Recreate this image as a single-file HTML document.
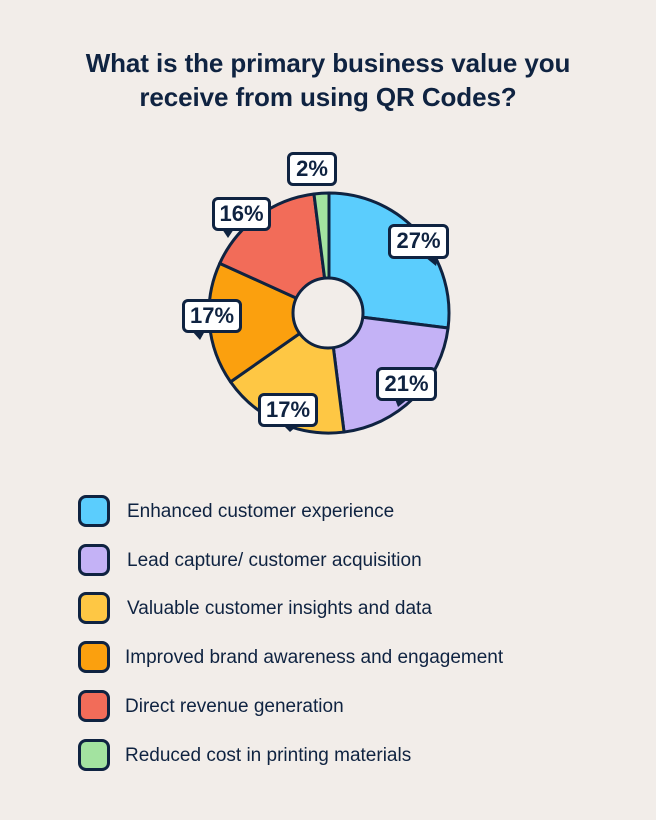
<!DOCTYPE html>
<html><head><meta charset="utf-8"><style>
body{margin:0;width:656px;height:820px;background:#f2ede9;font-family:"Liberation Sans",sans-serif;color:#0f2341;position:relative;overflow:hidden}
.t{position:absolute;left:0;width:656px;text-align:center;font-weight:bold;font-size:26px;line-height:34px;top:46px;letter-spacing:-0.1px}
.lg{position:absolute;left:78px;width:32px;height:32px;border:3px solid #0f2341;border-radius:8px;box-sizing:border-box}
.lt{position:absolute;left:127px;font-size:19px;line-height:20px}
.b{position:absolute;background:#fff;border:3px solid #0f2341;border-radius:6px;box-sizing:border-box;font-weight:bold;font-size:22px;text-align:center;line-height:28px}
</style></head><body>
<div class="t">What is the primary business value you<br>receive from using QR Codes?</div>
<svg width="656" height="820" style="position:absolute;left:0;top:0">
<g stroke="#0f2341" stroke-width="3" stroke-linejoin="round">
<path d="M329,313 L329,193 A120,120 0 0 1 448.06,328.04 Z" fill="#5bcdfd"/>
<path d="M329,313 L448.06,328.04 A120,120 0 0 1 344.04,432.06 Z" fill="#c4b2f6"/>
<path d="M329,313 L344.04,432.06 A120,120 0 0 1 230.55,381.88 Z" fill="#fec744"/>
<path d="M329,313 L230.55,381.88 A120,120 0 0 1 219.76,263.34 Z" fill="#fba00e"/>
<path d="M329,313 L219.76,263.34 A120,120 0 0 1 313.95,193.95 Z" fill="#f26c59"/>
<path d="M329,313 L313.95,193.95 A120,120 0 0 1 329,193 Z" fill="#a3e3a0"/>
<circle cx="328" cy="313" r="35" fill="#f2ede9"/>
</g>
<g fill="#0f2341">
<path d="M222,229 L234,229 L228,238 Z"/>
<path d="M425,257 L438,257 L436,266 Z"/>
<path d="M192,331 L205,331 L200,340 Z"/>
<path d="M395,399 L408,399 L398,407 Z"/>
<path d="M283,425 L298,425 L290,432 Z"/>
</g>
</svg>
<div class="b" style="left:287px;top:152px;width:50px;height:34px">2%</div>
<div class="b" style="left:212px;top:197px;width:59px;height:34px">16%</div>
<div class="b" style="left:388px;top:224px;width:61px;height:35px">27%</div>
<div class="b" style="left:182px;top:299px;width:60px;height:34px">17%</div>
<div class="b" style="left:376px;top:367px;width:61px;height:34px">21%</div>
<div class="b" style="left:258px;top:393px;width:60px;height:34px">17%</div>
<div class="lg" style="top:495px;background:#5bcdfd"></div><div class="lt" style="top:502px">Enhanced customer experience</div>
<div class="lg" style="top:544px;background:#c4b2f6"></div><div class="lt" style="top:551px">Lead capture/ customer acquisition</div>
<div class="lg" style="top:592px;background:#fec744"></div><div class="lt" style="top:599px">Valuable customer insights and data</div>
<div class="lg" style="top:641px;background:#fba00e"></div><div class="lt" style="top:648px;left:125px">Improved brand awareness and engagement</div>
<div class="lg" style="top:690px;background:#f26c59"></div><div class="lt" style="top:697px;left:125px">Direct revenue generation</div>
<div class="lg" style="top:739px;background:#a3e3a0"></div><div class="lt" style="top:746px;left:125px">Reduced cost in printing materials</div>
</body></html>
